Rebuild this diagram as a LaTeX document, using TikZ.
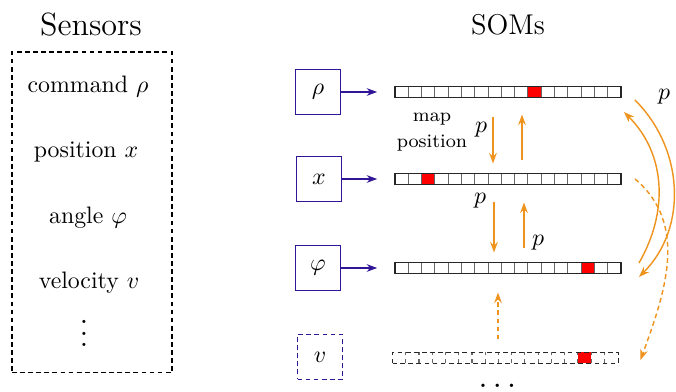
\documentclass[tikz,border=0pt]{standalone}
\usepackage{amsmath}
\usepackage{amssymb}
\usetikzlibrary{arrows.meta,calc}
\definecolor{sensblue}{RGB}{48,22,150}
\definecolor{linkorange}{RGB}{238,148,30}
\begin{document}
\begin{tikzpicture}[
    x=0.42pt, y=0.42pt,
    sensbox/.style={rectangle, draw=sensblue, line width=0.75pt, minimum size=18.9pt, inner sep=0pt},
    sombar/.style={rectangle, minimum width=94.9pt, minimum height=4.62pt, inner sep=0pt, outer sep=0pt},
    barline/.style={draw=black!85, line width=0.8pt},
    cellline/.style={draw=black!60, line width=0.45pt},
    loosedash/.style={dash pattern=on 2pt off 1.4pt},
    feed/.style={-{Stealth[length=4.4pt,width=3.2pt]}, draw=sensblue, line width=0.6pt, shorten >=7.5pt},
    pass/.style={-{Stealth[length=4.4pt,width=3.2pt]}, draw=linkorange, line width=0.6pt}
]
    \useasboundingbox (0,0) rectangle (676,392);

    % sensors column
    \node[font=\fontsize{13.5}{16}\selectfont] (senstitle) at (91,367) {Sensors};
    \node[draw, loosedash, line width=0.45pt, minimum width=67.2pt, minimum height=134.8pt] (sensors) at (92,179.5) {};
    \node (cmd) at (88,305) {command $\rho$};
    \node (pos) at (86,240) {position $x$};
    \node (ang) at (88,174) {angle $\varphi$};
    \node (vel) at (89,109) {velocity $v$};
    \node[scale=1.25, anchor=base] (moresens) at (84,45) {$\vdots$};

    % SOMs column
    \node[font=\fontsize{12}{14}\selectfont] (somtitle) at (508,367) {SOMs};
    \node[sensbox] (brho) at (318,300) {$\rho$};
    \node[sensbox] (bx) at (319,213) {$x$};
    \node[sensbox] (bphi) at (318,124) {$\varphi$};
    \node[sensbox, loosedash] (bv) at (320,35) {$v$};

    \node[sombar] (som1) at (508,300) {};
    \node[sombar] (som2) at (508,213) {};
    \node[sombar] (som3) at (508,124) {};
    \node[sombar] (som4) at (505.5,34) {};
    \foreach \n/\r in {1/10, 2/2, 3/14} {
        \fill[red] ($(som\n.south west)+(\r*13.29,0)$) rectangle ++(13.29,11);
        \foreach \i in {1,...,16}
            \draw[cellline] ($(som\n.south west)+(\i*13.29,0)$) -- ++(0,11);
        \draw[barline] (som\n.south west) rectangle (som\n.north east);
    }
    \fill[red] ($(som4.south west)+(14*13.24,0)$) rectangle ++(13.24,11);
    \foreach \i in {1,...,16}
        \draw[cellline, loosedash] ($(som4.south west)+(\i*13.24,0)$) -- ++(0,11);
    \draw[barline, loosedash] (som4.south west) rectangle (som4.north east);
    \node[scale=1.35, anchor=base] (moresoms) at (500,4) {$\dots$};

    \draw[feed] (brho) -- (som1);
    \draw[feed] (bx) -- (som2);
    \draw[feed] (bphi) -- (som3);

    \node[font=\footnotesize, align=center] (maplab) at (432,260) {map\\[1.5pt]position};

    \draw[pass] ($(som1.south)+(-15,-20)$) -- ($(som2.north)+(-15,10)$);
    \draw[pass] ($(som2.north)+(14,13)$) -- ($(som1.south)+(14,-17)$);
    \draw[pass] ($(som2.south)+(-14,-18)$) -- ($(som3.north)+(-14,10)$);
    \draw[pass] ($(som3.north)+(16,14)$) -- ($(som2.south)+(16,-18)$);
    \draw[pass, loosedash] ($(som4.north)+(-7.5,13)$) -- ($(som3.south)+(-10,-19)$);
    \node (p1) at (481,262) {$p$};
    \node (p2) at (480,191) {$p$};
    \node (p3) at (538,149) {$p$};

    \draw[pass] ($(som1.east)+(14,-8)$) to[out=-45, in=45] ($(som3.east)+(18,-9)$);
    \draw[pass] ($(som3.east)+(18,5)$) to[out=60, in=-45] ($(som1.east)+(3,-20)$);
    \draw[pass, loosedash] ($(som2.east)+(14,0)$) to[out=-40, in=70] ($(som4.east)+(22,-2)$);
    \node (p4) at (664,295) {$p$};
\end{tikzpicture}
\end{document}
